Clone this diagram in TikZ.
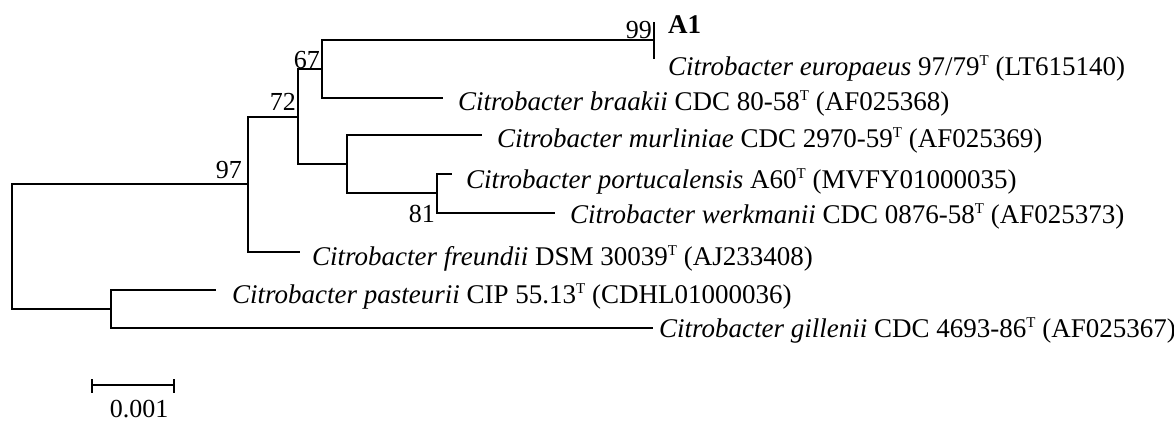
\documentclass[tikz,border=0pt]{standalone}
\usepackage{fontspec}
\setmainfont{Liberation Serif}
\newcommand\supT{\raisebox{10pt}{\fontsize{15}{15}\selectfont T}}
\begin{document}
\begin{tikzpicture}[x=1pt,y=-1pt,
  br/.style={line width=1.9pt},
  leaf/.style={anchor=base west, inner sep=0pt, font=\fontsize{27}{32}\selectfont},
  boot/.style={anchor=base east, inner sep=0pt, font=\fontsize{26}{30}\selectfont}]
\useasboundingbox (0,0) rectangle (1174,423);
% internal nodes
\coordinate (r) at (12,246);
\coordinate (n97) at (248,184);
\coordinate (n72) at (298,117);
\coordinate (n67) at (322,69);
\coordinate (n99) at (654,40);
\coordinate (ncl) at (347,164);
\coordinate (n81) at (437,193);
\coordinate (npg) at (111,309);
% branch ends
\coordinate (a1e) at (654,22);
\coordinate (eure) at (654,59);
\coordinate (brae) at (443,98);
\coordinate (mure) at (482,135);
\coordinate (pore) at (452,174);
\coordinate (were) at (555,213);
\coordinate (free) at (300,252);
\coordinate (pase) at (216,290);
\coordinate (gile) at (653,328);
% edges
\draw[br] (r) |- (n97);
\draw[br] (r) |- (npg);
\draw[br] (n97) |- (n72);
\draw[br] (n97) |- (free);
\draw[br] (n72) |- (n67);
\draw[br] (n72) |- (ncl);
\draw[br] (n67) |- (n99);
\draw[br] (n67) |- (brae);
\draw[br] (n99) |- (a1e);
\draw[br] (n99) |- (eure);
\draw[br] (ncl) |- (mure);
\draw[br] (ncl) |- (n81);
\draw[br] (n81) |- (pore);
\draw[br] (n81) |- (were);
\draw[br] (npg) |- (pase);
\draw[br] (npg) |- (gile);
% leaf labels
\node[leaf, font=\fontsize{27}{32}\selectfont\bfseries] (a1) at (668,33) {A1};
\node[leaf] (eur) at (668,75) {\textit{Citrobacter europaeus} 97/79\supT{} (LT615140)};
\node[leaf] (bra) at (458,110) {\textit{Citrobacter braakii} CDC 80-58\supT{} (AF025368)};
\node[leaf] (mur) at (497,147) {\textit{Citrobacter murliniae} CDC 2970-59\supT{} (AF025369)};
\node[leaf] (por) at (466,188) {\textit{Citrobacter portucalensis} A60\supT{} (MVFY01000035)};
\node[leaf] (wer) at (570,223) {\textit{Citrobacter werkmanii} CDC 0876-58\supT{} (AF025373)};
\node[leaf] (fre) at (312,265) {\textit{Citrobacter freundii} DSM 30039\supT{} (AJ233408)};
\node[leaf] (pas) at (232,303) {\textit{Citrobacter pasteurii} CIP 55.13\supT{} (CDHL01000036)};
\node[leaf] (gil) at (659,337) {\textit{Citrobacter gillenii} CDC 4693-86\supT{} (AF025367)};
% bootstrap values
\node[boot] (b97) at (242,178) {97};
\node[boot] (b72) at (296,110) {72};
\node[boot] (b67) at (320,68) {67};
\node[boot] (b99) at (652,38) {99};
\node[boot] (b81) at (435,222) {81};
% scale bar
\coordinate (s1) at (92,385);
\coordinate (s2) at (174,385);
\draw[br] (s1) -- (s2);
\draw[br] ([yshift=6pt]s1) -- ([yshift=-8pt]s1);
\draw[br] ([yshift=6pt]s2) -- ([yshift=-8pt]s2);
\node[anchor=base, inner sep=0pt, font=\fontsize{26}{30}\selectfont] (sl) at (139,417) {0.001};
\end{tikzpicture}
\end{document}
